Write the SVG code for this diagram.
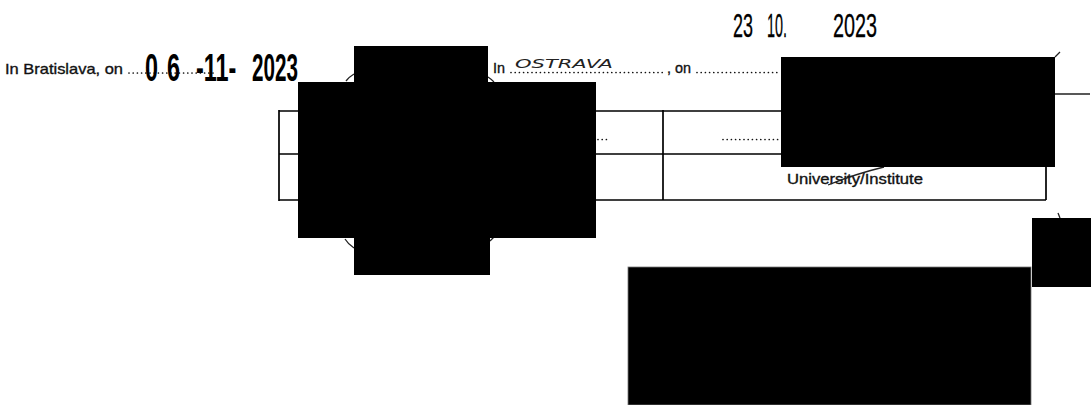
<svg xmlns="http://www.w3.org/2000/svg" width="1091" height="405" viewBox="0 0 1091 405">
<style>
.t{font-family:"Liberation Sans",Arial,sans-serif;font-size:15px;fill:#111;stroke:#111;stroke-width:0.35}
.st{font-family:"Liberation Sans",Arial,sans-serif;font-weight:bold;font-size:39px;fill:#000}
.st2{font-family:"Liberation Sans",Arial,sans-serif;fill:#000;stroke:#000;stroke-width:0.3}
.hw{font-family:"DejaVu Sans",sans-serif;font-style:italic;font-size:13px;fill:#222}
.ln{stroke:#000;stroke-width:1.7;fill:none}
.dots{stroke:#111;stroke-width:1.7;stroke-linecap:round;stroke-dasharray:0 4.2;fill:none}
.mk{stroke:#222;stroke-width:1.3;fill:none}
.rd{fill:#000}
</style>
<rect width="1091" height="405" fill="#fff"/>
<g id="place-bratislava">
<text class="t" x="5" y="74" textLength="118" lengthAdjust="spacingAndGlyphs">In Bratislava, on</text>
<path class="dots" d="M129,73 H216"/>
</g>
<g id="stamp-date-1">
<text class="st" transform="translate(145,81) scale(0.6,1)">0</text>
<text class="st" transform="translate(167,81) scale(0.6,1)">6</text>
<text class="st" transform="translate(196,81) scale(0.6,1)">-11-</text>
<text class="st" transform="translate(252,81) scale(0.53,1)">2023</text>
</g>
<g id="place-ostrava">
<text class="t" x="493" y="73" textLength="12" lengthAdjust="spacingAndGlyphs">In</text>
<text class="hw" x="515" y="68" textLength="98" lengthAdjust="spacingAndGlyphs">OSTRAVA</text>
<path class="dots" d="M511,72.5 H665"/>
<text class="t" x="667" y="73" textLength="24" lengthAdjust="spacingAndGlyphs">, on</text>
<path class="dots" d="M697,72.5 H780"/>
</g>
<g id="stamp-date-2">
<text class="st2" x="733" y="37" font-size="33" textLength="20" lengthAdjust="spacingAndGlyphs">23</text>
<text class="st2" x="767" y="37" font-size="33" textLength="20" lengthAdjust="spacingAndGlyphs">10.</text>
<text class="st2" x="833" y="37" font-size="33" textLength="44" lengthAdjust="spacingAndGlyphs">2023</text>
</g>
<g id="table">
<path class="ln" d="M279,111 H1046 M279,154 H1046 M279,200 H1046 M279,110 V201 M663,110 V200 M1046,110 V200"/>
<path class="dots" d="M598,139.5 H608"/>
<path class="dots" d="M723,139.5 H780"/>
<text class="t" x="787" y="184" textLength="136" lengthAdjust="spacingAndGlyphs">University/Institute</text>
<path class="mk" stroke-width="1.7" d="M828,185 Q855,174 884,167"/>
</g>
<g id="seal">
<path class="mk" d="M346,81 Q349,77 354,74 M488,77 Q491,79 494,82 M345,239 Q348,244 354,248 M490,241 Q492,239 494,237"/>
</g>
<g id="signature-marks">
<path class="mk" d="M1055,57 L1060,52 M1055,94 H1090 M1058,213 L1060,218"/>
</g>
<g id="redactions">
<path class="rd" d="M354,46 H488 V82 H596 V238 H490 V275 H354 V238 H298 V82 H354 Z"/>
<rect class="rd" x="781" y="57" width="274" height="110"/>
<rect class="rd" x="1032" y="218" width="59" height="69"/>
<rect class="rd" x="628" y="267" width="403" height="138" stroke="#777" stroke-width="0.8"/>
</g>
</svg>
